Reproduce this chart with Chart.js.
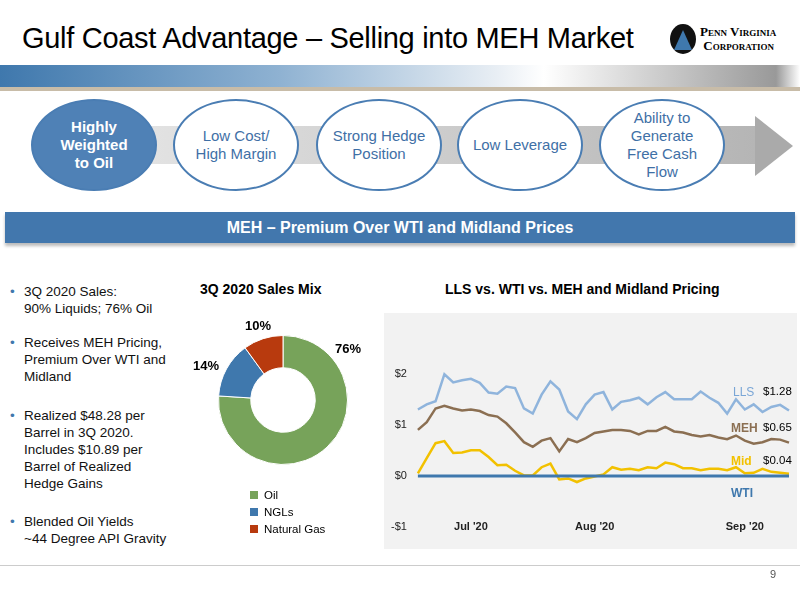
<!DOCTYPE html>
<html><head><meta charset="utf-8">
<script src="https://cdn.jsdelivr.net/npm/chart.js@4"></script>
<style>
body{margin:0;width:800px;height:600px;position:relative;font-family:"Liberation Sans",Arial,sans-serif;background:#fff;overflow:hidden}
.a{position:absolute}
.circ{position:absolute;top:99px;width:122px;height:88px;border:2px solid #4a7db3;border-radius:50%;background:#fff;display:flex;align-items:center;justify-content:center;text-align:center;color:#3f70a6;font-size:15px;line-height:18px}
.bul{position:absolute;left:10px;font-size:13.5px;line-height:17px;color:#111}
.bul:before{content:"•";color:#3f78ad;position:absolute;left:0}
.bul span{display:block;padding-left:14px}
</style></head><body>
<div class="a" style="left:22px;top:22px;font-size:29px;letter-spacing:-0.3px">Gulf Coast Advantage – Selling into MEH Market</div>
<div class="a" style="left:670px;top:24px;width:26px;height:30px;border-radius:50%;background:#111"></div>
<div class="a" style="left:674px;top:30px;width:0;height:0;border-left:9px solid transparent;border-right:9px solid transparent;border-bottom:20px solid #3f78ad"></div>
<div class="a" style="left:700px;top:25px;font-family:'Liberation Serif',serif;font-size:13px;line-height:14px;font-weight:bold;font-variant:small-caps">Penn Virginia<br>&nbsp;Corporation</div>
<div class="a" style="left:0;top:65px;width:800px;height:22px;background:linear-gradient(90deg,#3f78ad 0%,#8fb2d2 35%,#e8eef4 62%,#fff 68%,#999 97%,#fff 100%)"></div>
<div class="a" style="left:0;top:87px;width:800px;height:4px;background:#c8bca8"></div>
<div class="a" style="left:100px;top:126px;width:655px;height:38px;background:linear-gradient(90deg,#e6e6e6,#b5b5b5)"></div>
<div class="a" style="left:755px;top:116px;width:0;height:0;border-top:30px solid transparent;border-bottom:30px solid transparent;border-left:38px solid #aaa"></div>
<div class="circ" style="left:31px;background:#4f81b6;color:#fff;font-weight:bold">Highly<br>Weighted<br>to Oil</div>
<div class="circ" style="left:173px">Low Cost/<br>High Margin</div>
<div class="circ" style="left:316px">Strong Hedge<br>Position</div>
<div class="circ" style="left:457px">Low Leverage</div>
<div class="circ" style="left:599px">Ability to<br>Generate<br>Free Cash<br>Flow</div>
<div class="a" style="left:5px;top:212px;width:790px;height:31px;background:#4277ad;box-shadow:0 3px 3px #bbb;color:#fff;font-weight:bold;font-size:16px;text-align:center;line-height:31px">MEH – Premium Over WTI and Midland Prices</div>

<div class="bul" style="top:283px"><span>3Q 2020 Sales:<br>90% Liquids; 76% Oil</span></div>
<div class="bul" style="top:334px"><span>Receives MEH Pricing,<br>Premium Over WTI and<br>Midland</span></div>
<div class="bul" style="top:407px"><span>Realized $48.28 per<br>Barrel in 3Q 2020.<br>Includes $10.89 per<br>Barrel of Realized<br>Hedge Gains</span></div>
<div class="bul" style="top:513px"><span>Blended Oil Yields<br>~44 Degree API Gravity</span></div>

<div class="a" style="left:200px;top:281px;font-weight:bold;font-size:14px">3Q 2020 Sales Mix</div>
<div class="a" style="left:190px;top:310px;width:190px;height:180px"><canvas id="pie"></canvas></div>
<div class="a" style="left:245px;top:318px;font-weight:bold;font-size:13px">10%</div>
<div class="a" style="left:193px;top:358px;font-weight:bold;font-size:13px">14%</div>
<div class="a" style="left:335px;top:341px;font-weight:bold;font-size:13px">76%</div>
<div class="a" style="left:250px;top:487px;font-size:11.5px;line-height:17px">
<div><span style="display:inline-block;width:8px;height:8px;background:#77a35a;margin-right:6px"></span>Oil</div>
<div><span style="display:inline-block;width:8px;height:8px;background:#3f78ad;margin-right:6px"></span>NGLs</div>
<div><span style="display:inline-block;width:8px;height:8px;background:#b83a0e;margin-right:6px"></span>Natural Gas</div></div>

<div class="a" style="left:445px;top:281px;font-weight:bold;font-size:14px">LLS vs. WTI vs. MEH and Midland Pricing</div>
<div class="a" style="left:384px;top:313px;width:413px;height:236px;background:#f2f2f2"></div>
<div class="a" style="left:384px;top:313px;width:413px;height:236px"><canvas id="line"></canvas></div>
<div class="a" style="left:733px;top:385px;font-size:12px;color:#7aa6d6">LLS</div>
<div class="a" style="left:763px;top:385px;font-size:11.5px">$1.28</div>
<div class="a" style="left:731px;top:421px;font-size:12px;color:#8b6f52;font-weight:bold">MEH</div>
<div class="a" style="left:763px;top:421px;font-size:11.5px">$0.65</div>
<div class="a" style="left:731px;top:454px;font-size:12px;color:#f2c100;font-weight:bold">Mid</div>
<div class="a" style="left:763px;top:454px;font-size:11.5px">$0.04</div>
<div class="a" style="left:731px;top:486px;font-size:12px;color:#3f78ad;font-weight:bold">WTI</div>

<div class="a" style="left:0;top:565px;width:800px;height:1px;background:#ccc"></div>
<div class="a" style="left:770px;top:568px;font-size:11px;color:#555">9</div>
<script>
const mixLabels = ['Oil', 'NGLs', 'Natural Gas'];
const mixValues = [76, 14, 10];
const mixColors = ['#77a35a', '#3f78ad', '#b83a0e'];

const monthTicks = {6: "Jul '20", 20: "Aug '20", 37: "Sep '20"};
const lls = [1.30,1.40,1.46,1.99,1.83,1.87,1.90,1.82,1.63,1.61,1.75,1.72,1.32,1.22,1.59,1.85,1.69,1.26,1.11,1.40,1.59,1.64,1.30,1.45,1.48,1.53,1.40,1.54,1.64,1.50,1.50,1.50,1.65,1.53,1.43,1.22,1.50,1.30,1.40,1.25,1.35,1.39,1.28];
const meh = [0.90,1.05,1.32,1.37,1.32,1.28,1.30,1.27,1.19,1.16,1.03,0.85,0.66,0.57,0.69,0.74,0.48,0.72,0.66,0.74,0.84,0.87,0.90,0.90,0.88,0.81,0.88,0.88,0.96,0.87,0.85,0.80,0.77,0.80,0.75,0.72,0.79,0.69,0.63,0.66,0.72,0.71,0.65];
const mid = [0.05,0.35,0.64,0.68,0.45,0.46,0.50,0.50,0.37,0.21,0.22,0.10,0.01,0.01,0.17,0.24,-0.07,-0.05,-0.12,-0.05,-0.01,0.03,0.17,0.12,0.14,0.11,0.17,0.15,0.26,0.23,0.15,0.15,0.11,0.14,0.14,0.11,0.17,0.05,0.06,0.14,0.08,0.06,0.04];
const wti = lls.map(() => 0);
const days = lls.map((v, i) => i);

new Chart(document.getElementById('pie'), {
    type: 'doughnut',
    data: { labels: mixLabels, datasets: [{ data: mixValues, backgroundColor: mixColors, borderColor: '#fff', borderWidth: 1 }] },
    options: {
        responsive: true, maintainAspectRatio: false, animation: false, cutout: '50%',
        layout: { padding: { left: 28, right: 32, top: 25, bottom: 25 } },
        plugins: { legend: { display: false }, tooltip: { enabled: false } }
    }
});

// month labels sit on the -1 line, level with the bottom y tick
const monthLabels = {
    id: 'monthLabels',
    afterDraw(chart) {
        const { ctx, scales: { x, y } } = chart;
        ctx.save();
        ctx.font = 'bold 11px "Liberation Sans"';
        ctx.fillStyle = '#222';
        ctx.textAlign = 'center';
        ctx.textBaseline = 'middle';
        Object.keys(monthTicks).forEach(i => ctx.fillText(monthTicks[i], x.getPixelForValue(+i), y.getPixelForValue(-1)));
        ctx.restore();
    }
};

const ds = (d, c, w) => ({ data: d, borderColor: c, borderWidth: w, pointRadius: 0, tension: 0, fill: false });
new Chart(document.getElementById('line'), {
    type: 'line',
    data: { labels: days, datasets: [ds(wti, '#3f78ad', 3), ds(mid, '#f2c100', 2.5), ds(meh, '#8b6f52', 2.5), ds(lls, '#8fb4dc', 2.5)] },
    options: {
        responsive: true, maintainAspectRatio: false, animation: false,
        layout: { padding: { left: 4, right: 8, top: 9, bottom: 22 } },
        plugins: { legend: { display: false }, tooltip: { enabled: false } },
        scales: {
            x: { display: false },
            y: {
                min: -1, max: 3, grid: { display: false }, border: { display: false },
                ticks: { stepSize: 1, color: '#222', font: { size: 11, family: 'Liberation Sans' },
                    callback: (v) => v > 2 ? '' : (v < 0 ? '-$' + (-v) : '$' + v) }
            }
        }
    },
    plugins: [monthLabels]
});
</script>
</body></html>
